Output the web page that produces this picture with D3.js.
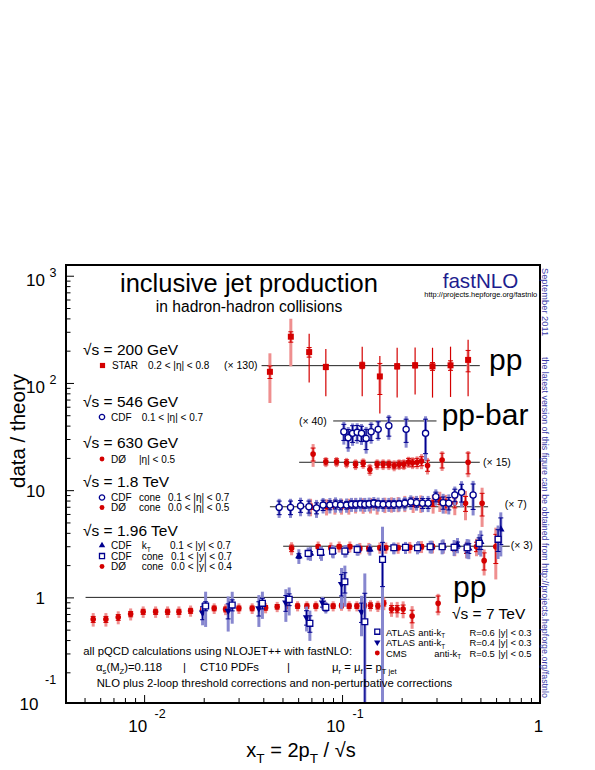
<!DOCTYPE html>
<html>
<head>
<meta charset="utf-8">
<script src="https://cdn.jsdelivr.net/npm/d3@7/dist/d3.min.js"></script>
<style>
body { margin: 0; background: #fff; }
svg { display: block; }
text { font-family: "Liberation Sans", Arial, Helvetica, sans-serif; white-space: pre; }
</style>
</head>
<body>
<svg id="chart" width="595" height="770"></svg>
<script>
// axis ranges and tick labels
var xDomain = [0.00403, 1];
var yDomain = [0.1035, 1259];
var xTickVals = [0.01, 0.1, 1];
var xTickBase = ["10", "10", "1"];
var xTickExp = ["-2", "-1", ""];
var yTickVals = [0.1, 1, 10, 100, 1000];
var yTickBase = ["10", "1", "10", "10", "10"];
var yTickExp = ["-1", "", "", "2", "3"];

// sqrt(s) = 200 GeV, STAR (scaled x130)
var starX = [0.0432, 0.0551, 0.0682, 0.0828, 0.1264, 0.1552, 0.1898, 0.2339, 0.2864, 0.3532, 0.4333];
var starY = [127, 270, 194, 141, 146, 115, 143, 146, 143, 146, 164];
var starStat = [17, 30, 93, 66, 71, 63, 70, 68, 70, 72, 89];
var starSys = [62, 127, 20, 8, 10, 37, 8, 8, 12, 15, 37];

// sqrt(s) = 546 GeV, CDF (x40)
var cdf546X = [0.1021, 0.1074, 0.1130, 0.1192, 0.1254, 0.1323, 0.1402, 0.1522, 0.1723, 0.2107, 0.2641];
var cdf546Y = [35.1, 30.8, 33.9, 34.6, 33.9, 30.4, 35.1, 36.9, 39.9, 36.9, 33.9];
var cdf546Stat = [6, 6, 6, 5.5, 5.5, 6.5, 6, 6.5, 8, 9, 12];
var cdf546Sys = [8.5, 8, 8, 7.5, 7.5, 8.5, 8, 8, 10.4, 12, 15];

// sqrt(s) = 630 GeV, D0 (x15)
var d0630X = [0.0714, 0.0828, 0.0938, 0.1054, 0.1170, 0.1278, 0.1382, 0.1504, 0.1612, 0.1723, 0.1833, 0.1942, 0.2051, 0.2167, 0.2270, 0.2394, 0.2521, 0.2703, 0.3202, 0.4333];
var d0630Y = [21.7, 18.4, 18.4, 18.0, 17.4, 17.8, 15.6, 17.4, 17.4, 17.4, 17.0, 17.4, 17.4, 18.3, 18.0, 18.2, 18.7, 17.0, 19.1, 18.2];
var d0630Stat = [3, 1.2, 1.2, 1.2, 1.2, 1.2, 1.2, 1.2, 1.2, 1.2, 1.2, 1.3, 1.3, 1.5, 1.5, 1.6, 1.8, 2, 3, 4];
var d0630Sys = [5.2, 2, 2, 2, 2, 2, 2, 2, 2, 2, 2, 2, 2, 2.2, 2.3, 2.5, 3, 3, 4, 5];

// sqrt(s) = 1.8 TeV (x7)
var cdf18X = [0.0481, 0.0549, 0.0617, 0.0680, 0.0743, 0.0802, 0.0868, 0.0927, 0.0983, 0.1054, 0.1116, 0.1174, 0.1240, 0.1303, 0.1370, 0.1447, 0.1522, 0.1612, 0.1723, 0.1827, 0.1942, 0.2075, 0.2225, 0.2378, 0.2550, 0.2722, 0.2977, 0.3241, 0.3461, 0.3712, 0.4014, 0.4593];
var cdf18Y = [6.91, 6.91, 7.11, 7.01, 6.81, 7.26, 7.26, 7.37, 7.26, 7.26, 7.37, 7.37, 7.42, 7.37, 7.42, 7.54, 7.42, 7.37, 7.37, 7.37, 7.42, 7.54, 7.75, 7.64, 7.54, 7.54, 8.68, 7.64, 7.54, 9.01, 9.54, 9.01];
var cdf18Stat = [1.0, 1.0, 0.9, 0.9, 0.8, 0.8, 0.7, 0.7, 0.7, 0.6, 0.6, 0.6, 0.6, 0.6, 0.6, 0.6, 0.6, 0.6, 0.6, 0.6, 0.6, 0.7, 0.7, 0.7, 0.8, 0.8, 0.9, 1.0, 1.0, 1.2, 1.8, 2.4];
var cdf18Sys = [1.4, 1.4, 1.4, 1.3, 1.3, 1.2, 1.2, 1.2, 1.1, 1.1, 1.1, 1.1, 1.1, 1.1, 1.1, 1.1, 1.1, 1.1, 1.1, 1.1, 1.1, 1.1, 1.2, 1.2, 1.3, 1.3, 1.5, 1.6, 1.6, 1.8, 2.6, 3.2];
var d018X = [0.0693, 0.0835, 0.0920, 0.0994, 0.1082, 0.1170, 0.1278, 0.1392, 0.1504, 0.1645, 0.1778, 0.1920, 0.2075, 0.2286, 0.2500, 0.2884, 0.3118, 0.3343, 0.3712, 0.4204, 0.5099];
var d018Y = [7.01, 7.01, 7.11, 7.11, 7.11, 7.26, 7.22, 7.26, 7.11, 7.31, 7.37, 7.42, 7.54, 7.42, 7.54, 7.54, 7.96, 7.54, 7.64, 7.54, 7.54];
var d018Stat = [0.4, 0.3, 0.3, 0.3, 0.3, 0.3, 0.3, 0.3, 0.3, 0.3, 0.3, 0.3, 0.3, 0.4, 0.4, 0.5, 0.6, 0.7, 0.8, 1.2, 1.8];
var d018Sys = [1.3, 1.2, 1.2, 1.2, 1.2, 1.2, 1.2, 1.2, 1.2, 1.2, 1.2, 1.2, 1.3, 1.3, 1.4, 1.5, 1.7, 1.5, 1.8, 2.3, 3.0];

// sqrt(s) = 1.96 TeV (x3)
var d0196X = [0.0556, 0.0757, 0.0878, 0.0967, 0.1095, 0.1230, 0.1365, 0.1552, 0.1664, 0.1920, 0.2200, 0.2521, 0.2864, 0.3241, 0.3712, 0.4253, 0.4777, 0.5221, 0.5980];
var d0196Y = [2.87, 2.97, 2.90, 2.97, 2.97, 2.87, 2.87, 2.90, 2.90, 2.90, 2.93, 2.97, 2.97, 2.97, 2.87, 2.82, 2.97, 2.20, 2.97];
var d0196Stat = [0.2, 0.12, 0.12, 0.12, 0.12, 0.12, 0.12, 0.12, 0.12, 0.12, 0.13, 0.14, 0.15, 0.17, 0.2, 0.25, 0.3, 0.4, 0.9];
var d0196Sys = [0.4, 0.35, 0.35, 0.35, 0.35, 0.35, 0.35, 0.35, 0.35, 0.35, 0.36, 0.38, 0.4, 0.42, 0.45, 0.5, 0.55, 0.6, 1.5];
var cdfKtX = [0.0605, 0.0693, 0.0787, 0.0902, 0.1045, 0.1206, 0.1382, 0.1601, 0.1827, 0.2092, 0.2433, 0.2831, 0.3241, 0.3831, 0.4368, 0.5023, 0.6339];
var cdfKtY = [2.43, 2.57, 2.57, 2.67, 2.72, 2.80, 2.80, 2.87, 2.87, 2.90, 2.97, 2.97, 3.03, 3.08, 2.87, 3.30, 4.31];
var cdfKtStat = [0.12, 0.1, 0.1, 0.1, 0.1, 0.1, 0.1, 0.1, 0.1, 0.1, 0.12, 0.14, 0.16, 0.2, 0.3, 0.5, 1.2];
var cdfKtSys = [0.38, 0.38, 0.38, 0.36, 0.36, 0.35, 0.35, 0.35, 0.35, 0.36, 0.38, 0.4, 0.45, 0.5, 0.6, 0.9, 1.9];
var cdfConeX = [0.0674, 0.0778, 0.0895, 0.1033, 0.1192, 0.1601, 0.1827, 0.2092, 0.2405, 0.2786, 0.3202, 0.3682, 0.4284, 0.4925, 0.6141];
var cdfConeY = [2.57, 2.63, 2.70, 2.70, 2.80, 2.26, 2.90, 2.93, 2.90, 2.97, 2.97, 2.93, 2.90, 3.19, 3.48];
var cdfConeStat = [0.1, 0.1, 0.1, 0.1, 0.1, 1.0, 0.1, 0.1, 0.12, 0.14, 0.16, 0.2, 0.3, 0.4, 0.8];
var cdfConeSys = [0.35, 0.35, 0.35, 0.35, 0.35, 2.3, 0.35, 0.36, 0.38, 0.4, 0.45, 0.5, 0.6, 0.7, 1.2];

// sqrt(s) = 7 TeV (x1)
var cmsX = [0.00553, 0.00641, 0.00740, 0.00855, 0.00989, 0.01143, 0.01314, 0.01499, 0.01717, 0.01974, 0.02259, 0.02580, 0.03011, 0.03514, 0.04109, 0.04701, 0.05306, 0.05961, 0.06641, 0.07373, 0.08184, 0.09016, 0.0994, 0.1086, 0.1188, 0.1296, 0.1392, 0.1517, 0.1626, 0.1778, 0.1898, 0.2035, 0.2259, 0.3057];
var cmsY = [0.624, 0.624, 0.651, 0.699, 0.734, 0.734, 0.734, 0.734, 0.750, 0.762, 0.790, 0.773, 0.790, 0.790, 0.800, 0.818, 0.830, 0.830, 0.830, 0.830, 0.830, 0.830, 0.839, 0.830, 0.830, 0.839, 0.839, 0.830, 0.880, 0.778, 0.778, 0.778, 0.669, 0.880];
var cmsStat = [0.04, 0.04, 0.04, 0.04, 0.04, 0.04, 0.04, 0.04, 0.04, 0.04, 0.04, 0.04, 0.04, 0.04, 0.04, 0.04, 0.04, 0.04, 0.04, 0.04, 0.04, 0.04, 0.04, 0.04, 0.04, 0.04, 0.05, 0.05, 0.05, 0.06, 0.06, 0.07, 0.09, 0.15];
var cmsSys = [0.09, 0.09, 0.09, 0.09, 0.09, 0.09, 0.09, 0.09, 0.09, 0.09, 0.09, 0.09, 0.09, 0.09, 0.09, 0.09, 0.09, 0.09, 0.09, 0.09, 0.09, 0.09, 0.09, 0.09, 0.09, 0.09, 0.1, 0.1, 0.12, 0.12, 0.13, 0.14, 0.16, 0.2];
var atlas06X = [0.02045, 0.02786, 0.03958, 0.05404, 0.06877, 0.0828, 0.1033, 0.1303];
var atlas06Y = [0.830, 0.848, 0.880, 0.958, 0.573, 0.807, 1.398, 0.592];
var atlas06Stat = [0.08, 0.1, 0.1, 0.12, 0.1, 0.06, 0.3, 0.5];
var atlas06Sys = [0.3, 0.28, 0.25, 0.28, 0.18, 0.1, 0.58, 1.08];
var atlas04X = [0.01974, 0.02659, 0.03800, 0.05200, 0.06618, 0.07968, 0.0994, 0.1254];
var atlas04Y = [0.719, 0.750, 0.790, 0.891, 0.651, 0.891, 1.331, 0.734];
var atlas04Stat = [0.1, 0.12, 0.12, 0.15, 0.1, 0.08, 0.3, 0.15];
var atlas04Sys = [0.17, 0.27, 0.26, 0.3, 0.17, 0.12, 0.55, 0.3];

// theory reference lines and their scale factors
var refLevel = [145, 44.2, 18.2, 7, 3, 1];
var refFrom = [0.0392, 0.0902, 0.0607, 0.0432, 0.0504, 0.00506];
var refTo = [0.4965, 0.300, 0.4965, 0.5468, 0.7036, 0.2967];
var refLabel = ["(\u00d7 130)", "(\u00d7 40)", "(\u00d7 15)", "(\u00d7 7)", "(\u00d7 3)", ""];

var refLabelSide = [-1, -1, 1, 1, 1, 0];
var refLabelGap = [4, 6.5, 3.3, 16.7, 1, 0];
var refLabelDy = [3, 3.7, 3.7, 1, 2.7, 0];

var red = "#d40000", redPale = "#ef8f8f", navy = "#00008f", bluePale = "#8787cf";

var svg = d3.select("#chart");
var padL = 66, padR = 540, padT = 265, padB = 703;

var x = d3.scaleLog().domain(xDomain).range([padL, padR]);
var y = d3.scaleLog().domain(yDomain).range([padB, padT]);

svg.append("rect").attr("width", 595).attr("height", 770).attr("fill", "#fff");

svg.append("clipPath").attr("id", "clip").append("rect")
	.attr("x", padL).attr("y", padT).attr("width", padR - padL).attr("height", padB - padT);

var plot = svg.append("g").attr("clip-path", "url(#clip)");

plot.selectAll(".ref").data(refLevel).enter().append("line")
	.attr("class", "ref")
	.attr("x1", function(d, i) { return x(refFrom[i]); })
	.attr("x2", function(d, i) { return x(refTo[i]); })
	.attr("y1", function(d) { return y(d); })
	.attr("y2", function(d) { return y(d); })
	.attr("stroke", "#222").attr("stroke-width", 1);

svg.selectAll(".refLabel").data(refLevel).enter().append("text")
	.attr("class", "refLabel")
	.attr("x", function(d, i) {
		return refLabelSide[i] < 0 ? x(refFrom[i]) - refLabelGap[i] : x(refTo[i]) + refLabelGap[i];
	})
	.attr("y", function(d, i) { return y(d) + refLabelDy[i]; })
	.attr("text-anchor", function(d, i) { return refLabelSide[i] < 0 ? "end" : "start"; })
	.attr("font-size", 10.5)
	.text(function(d, i) { return refLabel[i]; });

var symType = {sq: d3.symbolSquare, osq: d3.symbolSquare, circ: d3.symbolCircle, ocirc: d3.symbolCircle, tri: d3.symbolTriangle, dtri: d3.symbolTriangle};
var symSize = {sq: 36, osq: 34, circ: 25, ocirc: 30, tri: 24, dtri: 24};

function styleMarker(sel, kind, col) {
	var open = kind === "osq" || kind === "ocirc";
	sel.attr("fill", open ? "#fff" : col)
		.attr("stroke", open ? col : "none")
		.attr("stroke-width", open ? 1.3 : 0);
}

function drawSeries(xs, ys, stat, sys, kind, col, pale) {
	var g = plot.append("g");
	var pts = xs.map(function(v, i) { return {x: v, y: ys[i], st: stat[i], sy: sys[i]}; });
	var lo = function(v) { return Math.max(v, yDomain[0] * 0.5); };

	g.selectAll(".sys").data(pts).enter().append("line")
		.attr("x1", function(d) { return x(d.x); }).attr("x2", function(d) { return x(d.x); })
		.attr("y1", function(d) { return y(lo(d.y - d.sy)); })
		.attr("y2", function(d) { return y(d.y + d.sy); })
		.attr("stroke", pale).attr("stroke-width", 3);

	g.selectAll(".stat").data(pts).enter().append("line")
		.attr("x1", function(d) { return x(d.x); }).attr("x2", function(d) { return x(d.x); })
		.attr("y1", function(d) { return y(lo(d.y - d.st)); })
		.attr("y2", function(d) { return y(d.y + d.st); })
		.attr("stroke", col).attr("stroke-width", 1.2);

	// small end ticks on the shorter error
	[-1, 1].forEach(function(s) {
		g.selectAll(".tk" + s).data(pts).enter().append("line")
			.attr("x1", function(d) { return x(d.x) - 2.5; })
			.attr("x2", function(d) { return x(d.x) + 2.5; })
			.attr("y1", function(d) { return y(lo(d.y + s * Math.min(d.st, d.sy))); })
			.attr("y2", function(d) { return y(lo(d.y + s * Math.min(d.st, d.sy))); })
			.attr("stroke", col).attr("stroke-width", 1);
	});

	var sym = d3.symbol().type(symType[kind]).size(symSize[kind]);
	g.selectAll(".m").data(pts).enter().append("path")
		.attr("d", sym)
		.attr("transform", function(d) {
			return "translate(" + x(d.x) + "," + y(d.y) + ")" + (kind === "dtri" ? " rotate(180)" : "");
		})
		.call(styleMarker, kind, col);
}

drawSeries(cmsX, cmsY, cmsStat, cmsSys, "circ", red, redPale);
drawSeries(atlas04X, atlas04Y, atlas04Stat, atlas04Sys, "dtri", navy, bluePale);
drawSeries(atlas06X, atlas06Y, atlas06Stat, atlas06Sys, "osq", navy, bluePale);
drawSeries(d0196X, d0196Y, d0196Stat, d0196Sys, "circ", red, redPale);
drawSeries(cdfKtX, cdfKtY, cdfKtStat, cdfKtSys, "tri", navy, bluePale);
drawSeries(cdfConeX, cdfConeY, cdfConeStat, cdfConeSys, "osq", navy, bluePale);
drawSeries(d018X, d018Y, d018Stat, d018Sys, "circ", red, redPale);
drawSeries(cdf18X, cdf18Y, cdf18Stat, cdf18Sys, "ocirc", navy, bluePale);
drawSeries(d0630X, d0630Y, d0630Stat, d0630Sys, "circ", red, redPale);
drawSeries(cdf546X, cdf546Y, cdf546Stat, cdf546Sys, "ocirc", navy, bluePale);
drawSeries(starX, starY, starStat, starSys, "sq", red, redPale);

// axes
function minors(dom) {
	var out = [];
	for (var e = Math.floor(Math.log10(dom[0])); e <= Math.ceil(Math.log10(dom[1])); e++) {
		for (var k = 2; k <= 9; k++) {
			var v = k * Math.pow(10, e);
			if (v >= dom[0] && v <= dom[1]) out.push(v);
		}
	}
	return out;
}
function inDom(vals, dom) { return vals.filter(function(v) { return v >= dom[0] && v <= dom[1]; }); }

var axes = svg.append("g");
axes.append("g").attr("transform", "translate(" + padL + ",0)")
	.call(d3.axisLeft(y).tickValues(inDom(yTickVals, yDomain)).tickSize(-8).tickFormat(""));
axes.append("g").attr("transform", "translate(" + padL + ",0)")
	.call(d3.axisLeft(y).tickValues(minors(yDomain)).tickSize(-4.5).tickFormat(""));
axes.append("g").attr("transform", "translate(0," + padB + ")")
	.call(d3.axisTop(x).tickValues(inDom(xTickVals, xDomain)).tickSize(8).tickFormat(""));
axes.append("g").attr("transform", "translate(0," + padB + ")")
	.call(d3.axisTop(x).tickValues(minors(xDomain)).tickSize(5).tickFormat(""));
axes.selectAll(".domain").remove();
axes.selectAll(".tick line").attr("stroke", "#000").attr("stroke-width", 1);

svg.append("rect").attr("x", padL).attr("y", padT).attr("width", padR - padL).attr("height", padB - padT)
	.attr("fill", "none").attr("stroke", "#000").attr("stroke-width", 2);

var labs = svg.append("g").attr("font-size", 17);
yTickVals.forEach(function(v, i) {
	var py = y(v);
	if (yTickExp[i] === "") {
		labs.append("text").attr("x", 45).attr("y", py + 6.5).attr("text-anchor", "end").text(yTickBase[i]);
	} else if (v < 1) {
		labs.append("text").attr("x", 38.5).attr("y", py + 5).attr("text-anchor", "end").text(yTickBase[i]);
		labs.append("text").attr("x", 45).attr("y", py - 21).attr("font-size", 12.5).text(yTickExp[i]);
	} else {
		labs.append("text").attr("x", 45).attr("y", py + 10).attr("text-anchor", "end").text(yTickBase[i]);
		labs.append("text").attr("x", 49.5).attr("y", py + 1).attr("font-size", 12.5).text(yTickExp[i]);
	}
});
xTickVals.forEach(function(v, i) {
	var px = x(v);
	if (xTickExp[i] === "") {
		labs.append("text").attr("x", px - 1.5).attr("y", 732).attr("text-anchor", "middle").text(xTickBase[i]);
	} else {
		labs.append("text").attr("x", px + 3).attr("y", 732).attr("text-anchor", "end").text(xTickBase[i]);
		labs.append("text").attr("x", px + 10.5).attr("y", 718).attr("font-size", 12.5).text(xTickExp[i]);
	}
});

// text with sub/superscripts
function rich(g, px, py, parts, size, anchor, fill) {
	var t = g.append("text").attr("x", px).attr("y", py).attr("font-size", size)
		.attr("text-anchor", anchor || "start").attr("fill", fill || "#000");
	var shift = 0;
	parts.forEach(function(p) {
		var str = typeof p === "string" ? p : p[0];
		var mode = typeof p === "string" ? "" : p[1];
		var target = mode === "sub" ? size * 0.3 : (mode === "sup" ? -size * 0.4 : 0);
		t.append("tspan").attr("dy", target - shift).attr("font-size", mode ? size * 0.68 : size).text(str);
		shift = target;
	});
	return t;
}

var ann = svg.append("g");
rich(ann, 301, 757, ["x", ["T", "sub"], " = 2p", ["T", "sub"], " / \u221as"], 20, "middle");
ann.append("text").attr("transform", "translate(25,431) rotate(-90)").attr("text-anchor", "middle")
	.attr("font-size", 20.5).text("data / theory");

ann.append("text").attr("x", 249).attr("y", 292).attr("text-anchor", "middle").attr("font-size", 25.5).text("inclusive jet production");
ann.append("text").attr("x", 249).attr("y", 312).attr("text-anchor", "middle").attr("font-size", 15.6).text("in hadron-hadron collisions");
ann.append("text").attr("x", 442.7).attr("y", 288.3).attr("font-size", 20.6).attr("fill", "#1e1e8e").text("fastNLO");
ann.append("text").attr("x", 424.3).attr("y", 296.7).attr("font-size", 7.45).text("http://projects.hepforge.org/fastnlo");

ann.append("text").attr("transform", "translate(542,268) rotate(90)").attr("font-size", 9.3).attr("fill", "#3a3aa8").text("September 2011");
ann.append("text").attr("transform", "translate(542,357) rotate(90)").attr("font-size", 8.9).attr("fill", "#3a3aa8")
	.text("the latest version of this figure can be obtained from http://projects.hepforge.org/fastnlo");

ann.append("text").attr("x", 489).attr("y", 370).attr("font-size", 30).text("pp");
ann.append("text").attr("x", 441.7).attr("y", 425).attr("font-size", 30).text("pp-bar");
ann.append("text").attr("x", 453).attr("y", 597).attr("font-size", 30).text("pp");

// legend blocks
function legMarker(kind, col, cx, cy) {
	var sym = d3.symbol().type(symType[kind]).size(symSize[kind] * 0.75);
	ann.append("path").attr("d", sym)
		.attr("transform", "translate(" + cx + "," + cy + ")" + (kind === "dtri" ? " rotate(180)" : ""))
		.call(styleMarker, kind, col);
}
function legTitle(px, py, str) {
	ann.append("text").attr("x", px).attr("y", py).attr("font-size", 15.5).text(str);
}
function legText(px, py, str, size) {
	ann.append("text").attr("x", px).attr("y", py).attr("font-size", size || 10).text(str);
}

legTitle(83, 355, "\u221as = 200 GeV");
legMarker("sq", red, 102.5, 365.5);
legText(112, 369, "STAR");
legText(148, 369, "0.2 < |\u03b7| < 0.8");

legTitle(83, 406.5, "\u221as = 546 GeV");
legMarker("ocirc", navy, 102, 417);
legText(111, 420.5, "CDF");
legText(141.7, 420.5, "0.1 < |\u03b7| < 0.7");

legTitle(83, 448, "\u221as = 630 GeV");
legMarker("circ", red, 102, 459);
legText(111, 462.5, "D\u00d8");
legText(139, 462.5, "|\u03b7| < 0.5");

legTitle(83, 487, "\u221as = 1.8 TeV");
legMarker("ocirc", navy, 102, 497.5);
legText(111, 501, "CDF");
legText(139, 501, "cone");
legText(168, 501, "0.1 < |\u03b7| < 0.7");
legMarker("circ", red, 102, 507.5);
legText(111, 511, "D\u00d8");
legText(139, 511, "cone");
legText(168, 511, "0.0 < |\u03b7| < 0.5");

legTitle(83, 536, "\u221as = 1.96 TeV");
legMarker("tri", navy, 102, 545.5);
legText(111, 549, "CDF");
rich(ann, 141.7, 549, ["k", ["T", "sub"]], 10);
legText(170, 549, "0.1 < |y| < 0.7");
legMarker("osq", navy, 102, 556);
legText(111, 559.5, "CDF");
legText(141.7, 559.5, "cone");
legText(171, 559.5, "0.1 < |y| < 0.7");
legMarker("circ", red, 102, 566.5);
legText(111, 570, "D\u00d8");
legText(141.7, 570, "cone");
legText(171, 570, "0.0 < |y| < 0.4");

legTitle(452, 619, "\u221as = 7 TeV");
legMarker("osq", navy, 377.3, 631.7);
legText(386, 635.5, "ATLAS", 9.4);
rich(ann, 418.3, 635.5, ["anti-k", ["T", "sub"]], 9.4);
legText(469.5, 635.5, "R=0.6", 9.4);
legText(498.3, 635.5, "|y| < 0.3", 9.4);
legMarker("dtri", navy, 377.3, 642.3);
legText(386, 646, "ATLAS", 9.4);
rich(ann, 418.3, 646, ["anti-k", ["T", "sub"]], 9.4);
legText(469.5, 646, "R=0.4", 9.4);
legText(498.3, 646, "|y| < 0.3", 9.4);
legMarker("circ", red, 377.3, 653);
legText(386, 656.5, "CMS", 9.4);
rich(ann, 434.3, 656.5, ["anti-k", ["T", "sub"]], 9.4);
legText(469.5, 656.5, "R=0.5", 9.4);
legText(498.3, 656.5, "|y| < 0.5", 9.4);

ann.append("text").attr("x", 83.3).attr("y", 654.5).attr("font-size", 11.3)
	.text("all pQCD calculations using NLOJET++ with fastNLO:");
rich(ann, 96, 670.5, ["\u03b1", ["s", "sub"], "(M", ["Z", "sub"], ")=0.118"], 11.3);
ann.append("text").attr("x", 183).attr("y", 670.5).attr("font-size", 11.3).text("|");
ann.append("text").attr("x", 200).attr("y", 670.5).attr("font-size", 11.3).text("CT10 PDFs");
ann.append("text").attr("x", 287).attr("y", 670.5).attr("font-size", 11.3).text("|");
rich(ann, 332, 670.5, ["\u03bc", ["r", "sub"], " = \u03bc", ["f", "sub"], " = p", ["T jet", "sub"]], 11.3);
ann.append("text").attr("x", 96.7).attr("y", 687).attr("font-size", 11.3)
	.text("NLO plus 2-loop threshold corrections and non-perturbative corrections");
</script>
</body>
</html>
